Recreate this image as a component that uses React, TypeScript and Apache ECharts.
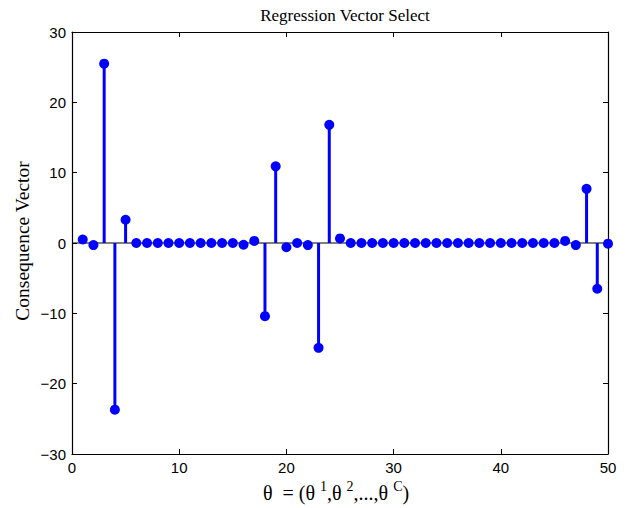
import React, { useEffect, useRef } from "react";
import * as echarts from "echarts";

const xValues = [1,2,3,4,5,6,7,8,9,10,11,12,13,14,15,16,17,18,19,20,21,22,23,24,25,26,27,28,29,30,31,32,33,34,35,36,37,38,39,40,41,42,43,44,45,46,47,48,49,50];
const yValues = [0.5,-0.3,25.5,-23.7,3.3,0,0,0,0,0,0,0,0,0,0,-0.25,0.3,-10.4,10.9,-0.6,0,-0.3,-14.9,16.8,0.65,0,0,0,0,0,0,0,0,0,0,0,0,0,0,0,0,0,0,0,0,0.3,-0.3,7.7,-6.5,-0.1];
const xTicks = [0, 10, 20, 30, 40, 50];
const yTicks = [-30, -20, -10, 0, 10, 20, 30];

const titleText = "Regression Vector Select";
const yLabel = "Consequence Vector";

export default function App() {
  const ref = useRef<HTMLDivElement>(null);
  useEffect(() => {
    if (!ref.current) return;
    const chart = echarts.init(ref.current, undefined, { renderer: "svg" });
    const pts = xValues.map((x, i) => [x, yValues[i]]);
    const fmt = (v: number) => String(v).replace("-", "\u2212");
    const axisCommon = {
      axisLine: { show: true, onZero: false, lineStyle: { color: "#000", width: 1.2 } },
      axisTick: { show: true, inside: true, length: 5, lineStyle: { color: "#000" } },
      splitLine: { show: false },
    };
    chart.setOption({
      animation: false,
      backgroundColor: "#fff",
      title: {
        text: titleText,
        left: 340,
        top: 2,
        textAlign: "center",
        textStyle: { fontFamily: "Liberation Serif", fontSize: 17, fontWeight: "normal", color: "#000" },
      },
      grid: { left: 72, right: 29, top: 32, bottom: 54 },
      xAxis: [
        {
          type: "value", min: xTicks[0], max: xTicks[xTicks.length - 1], interval: 10, position: "bottom",
          ...axisCommon,
          axisLabel: { color: "#000", fontFamily: "Liberation Sans", fontSize: 15, margin: 6, formatter: fmt },
        },
        {
          type: "value", min: xTicks[0], max: xTicks[xTicks.length - 1], interval: 10, position: "top",
          ...axisCommon, axisLabel: { show: false },
        },
      ],
      yAxis: [
        {
          type: "value", min: yTicks[0], max: yTicks[yTicks.length - 1], interval: 10, position: "left",
          ...axisCommon,
          axisLabel: { color: "#000", fontFamily: "Liberation Sans", fontSize: 15, margin: 6, formatter: fmt },
        },
        {
          type: "value", min: yTicks[0], max: yTicks[yTicks.length - 1], interval: 10, position: "right",
          ...axisCommon, axisLabel: { show: false },
        },
      ],
      graphic: [
        {
          type: "text",
          x: 22,
          y: 241,
          rotation: Math.PI / 2,
          style: {
            text: yLabel,
            fontFamily: "Liberation Serif",
            fontSize: 19.5,
            fill: "#000",
            align: "center",
            verticalAlign: "middle",
          },
        },
        {
          type: "text",
          x: 336,
          y: 491,
          style: {
            text: "{a|\u03b8  = (\u03b8 }{s|1}{a|,\u03b8 }{s|2}{a|,...,\u03b8 }{s|C}{a|)}",
            align: "center",
            verticalAlign: "middle",
            rich: {
              a: { fontFamily: "Liberation Serif", fontSize: 20, fill: "#000", verticalAlign: "bottom", lineHeight: 24 },
              s: { fontFamily: "Liberation Serif", fontSize: 14, fill: "#000", verticalAlign: "top", lineHeight: 24 },
            },
          },
        },
      ],
      series: [
        {
          type: "line",
          data: [[xTicks[0], 0], [xTicks[xTicks.length - 1], 0]],
          symbol: "none",
          lineStyle: { color: "#000", width: 1.2 },
          silent: true,
          z: 1,
        },
        {
          type: "custom",
          data: pts,
          renderItem: (params: any, api: any) => {
            const p0 = api.coord([api.value(0), 0]);
            const p1 = api.coord([api.value(0), api.value(1)]);
            return {
              type: "line",
              shape: { x1: p0[0], y1: p0[1], x2: p1[0], y2: p1[1] },
              style: { stroke: "#0000ff", lineWidth: 3 },
            };
          },
          z: 2,
        },
        {
          type: "scatter",
          data: pts,
          symbol: "circle",
          symbolSize: 10,
          itemStyle: { color: "#0000ff", opacity: 1 },
          z: 3,
        },
      ],
    });
    return () => chart.dispose();
  }, []);
  return <div ref={ref} style={{ width: 637, height: 508, position: "absolute", left: 0, top: 0 }} />;
}
